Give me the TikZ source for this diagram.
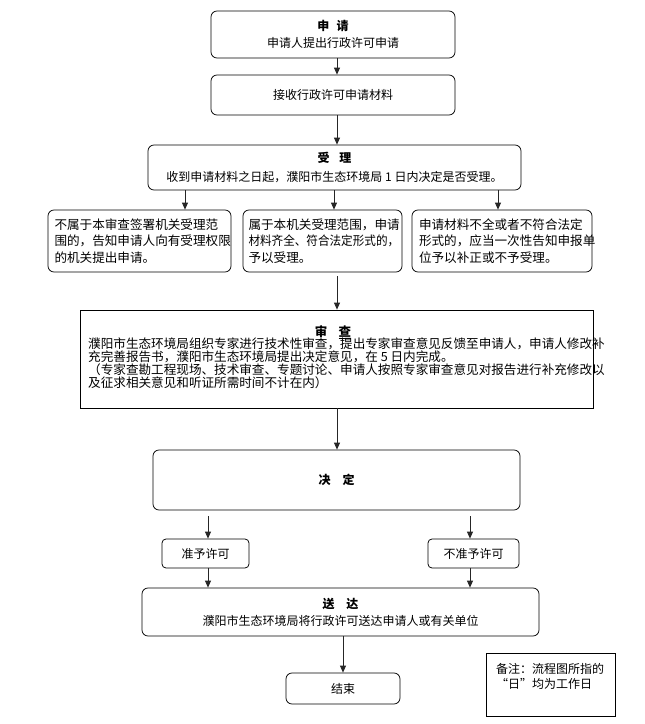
\documentclass[tikz,border=0pt]{standalone}
\usepackage{fontspec}
\setmainfont{Noto Sans CJK SC}
\usetikzlibrary{arrows.meta}
\begin{document}
\begin{tikzpicture}[x=1pt,y=-1pt,
  rbox/.style={draw=black, rounded corners=6pt, line width=0.75pt, inner sep=0pt, align=center, font=\fontsize{12}{17}\selectfont},
  sbox/.style={draw=black, line width=0.75pt, inner sep=0pt},
  lbox/.style={rbox, align=left, font=\fontsize{12.6}{16.5}\selectfont},
  arr/.style={draw=black!85, line width=0.75pt, -{Triangle[length=7pt,width=6pt]}}]
\useasboundingbox (0,0) rectangle (645,724);
% nodes
\node[rbox, minimum width=244pt, minimum height=47pt] (shen) at (333,34.5)
  {{\bfseries 申\hspace{0.6em}请}\\申请人提出行政许可申请};
\node[rbox, minimum width=244pt, minimum height=40pt] (jieshou) at (333,95) {接收行政许可申请材料};
\node[rbox, minimum width=373pt, minimum height=45pt, font=\fontsize{12}{19}\selectfont] (shouli) at (334.5,167.5)
  {{\bfseries 受\hspace{0.8em}理}\\收到申请材料之日起，濮阳市生态环境局 1 日内决定是否受理。};
\node[lbox, minimum width=183pt, minimum height=62pt, text width=170pt] (b1) at (139.5,241)
  {不属于本审查签署机关受理范\\围的，告知申请人向有受理权限\\的机关提出申请。};
\node[lbox, minimum width=159pt, minimum height=62pt, text width=148pt] (b2) at (322.5,241)
  {属于本机关受理范围，申请\\\scalebox{0.92}[1]{材料齐全、符合法定形式的，}\\予以受理。};
\node[lbox, minimum width=180pt, minimum height=62pt, text width=166pt] (b3) at (502,241)
  {申请材料不全或者不符合法定\\形式的，应当一次性告知申报单\\位予以补正或不予受理。};
\node[sbox, minimum width=513pt, minimum height=98pt] (shencha) at (336.5,359) {};
\node[inner sep=0pt, font=\fontsize{12.5}{12.5}\selectfont\bfseries] (shtitle) at (333,332) {审\hspace{0.9em}\underline{查}};
\node[inner sep=0pt, anchor=north west, align=left, font=\fontsize{12.6}{12.8}\selectfont] (shtext) at (88,338)
  {濮阳市生态环境局组织专家进行技术性审查，提出专家审查意见反馈至申请人，申请人修改补\\
   充完善报告书，濮阳市生态环境局提出决定意见，在 5 日内完成。\\
   （专家查勘工程现场、技术审查、专题讨论、申请人按照专家审查意见对报告进行补充修改以\\
   及征求相关意见和听证所需时间不计在内）};
\node[rbox, minimum width=367pt, minimum height=60pt] (jueding) at (336.5,480) {\bfseries 决\hspace{1em}定};
\node[rbox, minimum width=87pt, minimum height=29pt, rounded corners=4pt] (zhun) at (205.5,553.5) {准予许可};
\node[rbox, minimum width=91pt, minimum height=29pt, rounded corners=4pt] (buzhun) at (473.5,553.5) {不准予许可};
\node[rbox, minimum width=397pt, minimum height=48pt] (songda) at (340.5,612)
  {{\bfseries 送\hspace{1em}达}\\濮阳市生态环境局将行政许可送达申请人或有关单位};
\node[rbox, minimum width=114pt, minimum height=31pt] (jieshu) at (343,688.5) {结束};
\node[sbox, minimum width=129pt, minimum height=63pt] (note) at (550.5,684.5) {};
\node[inner sep=0pt, anchor=north west, align=left, font=\fontsize{12}{15}\selectfont] (notetext) at (496,663)
  {备注：流程图所指的\\“日”均为工作日};
% coordinates
\coordinate (xa) at (185,0);
\coordinate (xb) at (334,0);
\coordinate (xc) at (498,0);
\coordinate (xm) at (337,0);
\coordinate (s4) at (337,276);
\coordinate (d1) at (208,516);
\coordinate (d2) at (470,516);
\coordinate (xz) at (208,0);
\coordinate (xn) at (470,0);
\coordinate (xe) at (343,0);
% connectors
\draw[arr] (shen.south -| xm) -- (jieshou.north -| xm);
\draw[arr] (jieshou.south -| xm) -- (shouli.north -| xm);
\draw[arr] (shouli.south -| xa) -- (b1.north -| xa);
\draw[arr] (shouli.south -| xb) -- (b2.north -| xb);
\draw[arr] (shouli.south -| xc) -- (b3.north -| xc);
\draw[arr] (s4) -- (shencha.north -| s4);
\draw[arr] (shencha.south -| xm) -- (jueding.north -| xm);
\draw[arr] (d1) -- (zhun.north -| d1);
\draw[arr] (d2) -- (buzhun.north -| d2);
\draw[arr] (zhun.south -| xz) -- (songda.north -| xz);
\draw[arr] (buzhun.south -| xn) -- (songda.north -| xn);
\draw[arr] (songda.south -| xe) -- (jieshu.north -| xe);
\end{tikzpicture}
\end{document}
